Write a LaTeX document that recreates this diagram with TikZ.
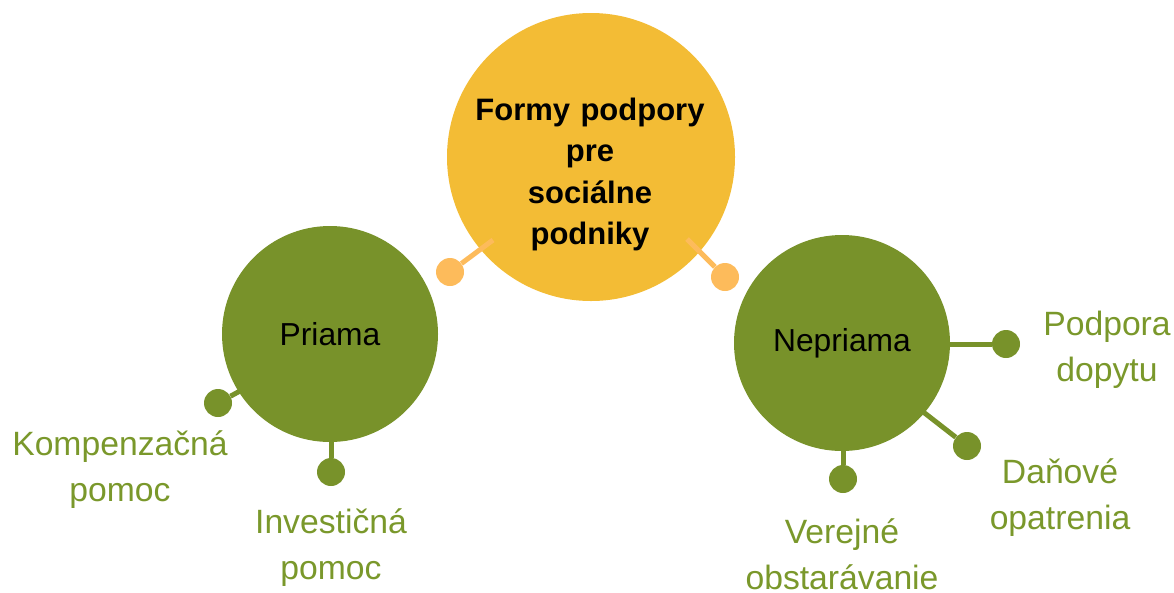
\documentclass[tikz,border=0pt]{standalone}
\usepackage{fontspec}
\setmainfont{Liberation Sans}
\definecolor{mainorange}{HTML}{F3BC35}
\definecolor{lightorange}{HTML}{FDBB5B}
\definecolor{leafgreen}{HTML}{78922A}
\definecolor{labelgreen}{HTML}{7A982B}
\tikzset{
  hub/.style={circle, fill=mainorange, inner sep=0pt, minimum size=288pt},
  branch/.style={circle, fill=leafgreen, inner sep=0pt, minimum size=216pt,
     font=\fontsize{31.8}{38}\selectfont, text=black},
  odot/.style={circle, fill=lightorange, inner sep=0pt, minimum size=28pt},
  gdot/.style={circle, fill=leafgreen, inner sep=0pt, minimum size=28pt},
  oline/.style={draw=lightorange, line width=5pt},
  gline/.style={draw=leafgreen, line width=5pt},
  leaf/.style={text=labelgreen, font=\fontsize{33.7}{46}\selectfont, align=center,
     text width=300pt, inner sep=0pt, anchor=base},
  titletext/.style={text=black, font=\bfseries\fontsize{31}{41.5}\selectfont, align=center,
     text width=300pt, inner sep=0pt, anchor=base}
}
\begin{document}
\begin{tikzpicture}[x=1pt,y=-1pt]
\useasboundingbox (0,0) rectangle (1174,592);
% hub
\node[hub] (hub) at (591,157) {};
\node[titletext] (title) at (590,120) {Formy podpory\\pre\\sociálne\\podniky};
% branches
\node[branch] (priama) at (330,334) {Priama};
\node[branch] (nepriama) at (842,343) {Nepriama};
% orange connectors
\coordinate (hl) at (493,240);
\coordinate (hr) at (687,239);
\node[odot] (dl) at (450,272) {};
\node[odot] (dr) at (725,277) {};
\draw[oline] (hl) -- (dl);
\draw[oline] (hr) -- (dr);
% Priama connectors
\node[gdot] (pd1) at (218,403) {};
\node[gdot] (pd2) at (331,472) {};
\coordinate (pa) at (240,391);
\coordinate (pb) at (331,438);
\draw[gline] (pa) -- (pd1);
\draw[gline] (pb) -- (pd2);
% Nepriama connectors
\node[gdot] (nd1) at (1006,344) {};
\node[gdot] (nd2) at (967,446) {};
\node[gdot] (nd3) at (843,479) {};
\coordinate (na) at (948,344);
\coordinate (nb) at (922,411);
\coordinate (nc) at (843,448);
\draw[gline] (na) -- (nd1);
\draw[gline] (nb) -- (nd2);
\draw[gline] (nc) -- (nd3);
% labels
\node[leaf] (l1) at (120,455) {Kompenzačná\\pomoc};
\node[leaf] (l2) at (331,533) {Investičná\\pomoc};
\node[leaf] (l3) at (842,543) {Verejné\\obstarávanie};
\node[leaf] (l4) at (1060,483) {Daňové\\opatrenia};
\node[leaf] (l5) at (1107,335) {Podpora\\dopytu};
\end{tikzpicture}
\end{document}
